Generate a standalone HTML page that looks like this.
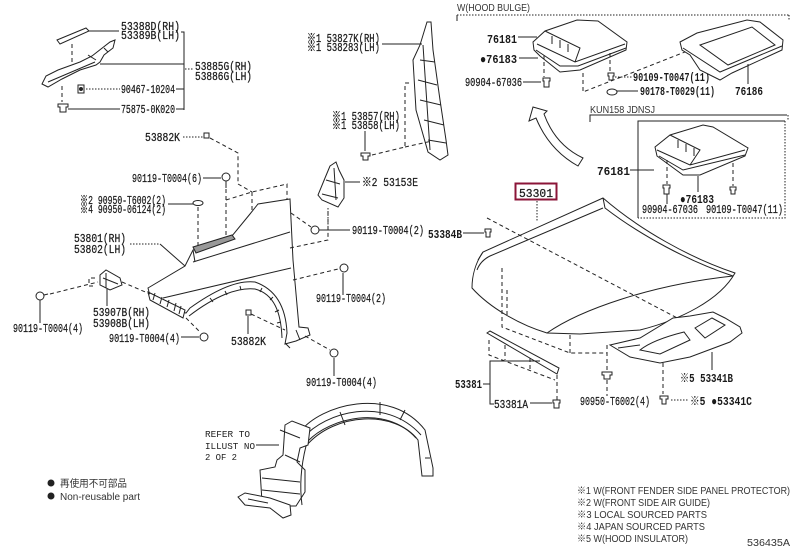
<!DOCTYPE html>
<html><head><meta charset="utf-8"><style>
html,body{margin:0;padding:0;background:#fff}
svg{display:block}
.t{font-family:"Liberation Mono","Noto Sans CJK JP",monospace;font-size:12px;fill:#1a1a1a;stroke:#1a1a1a;stroke-width:0.25}
.b{font-weight:bold;stroke-width:0}
.s{font-family:"Liberation Sans","Noto Sans CJK JP",sans-serif;font-size:10px;fill:#333}
.m{font-family:"Liberation Mono",monospace;font-size:9.5px;fill:#222}
.l{stroke:#222;stroke-width:1;fill:none}
.d{stroke:#222;stroke-width:1;fill:none;stroke-dasharray:4 3}
.o{stroke:#222;stroke-width:1;fill:none;stroke-dasharray:1.5 1.5}
.p{stroke:#222;stroke-width:1;fill:#fff}
.k{fill:#222}
</style></head><body>
<svg width="796" height="549" viewBox="0 0 796 549" xmlns="http://www.w3.org/2000/svg">
<rect width="796" height="549" fill="#fff"/>

<!-- ===== Top-left bracket group ===== -->
<polygon class="p" points="57,40 86,28 89,31 60,44"/>
<line class="l" x1="89" y1="31" x2="119" y2="31"/>
<path class="l" d="M181,32 H184 V110 M176,89 H184 M176,109 H184"/>
<line class="l" x1="100" y1="64" x2="184" y2="64"/>
<line class="o" x1="185" y1="69" x2="194" y2="69"/>
<line class="d" x1="72" y1="44" x2="72" y2="66"/>
<path class="p" d="M42,84 L46,76 L58,70 L80,62 L92,56 L110,42 L115,40 L113,48 L104,55 L100,62 L96,65 L80,70 L62,79 L48,87 Z"/>
<path class="l" d="M48,82 L95,62 M88,55 L96,60 M104,48 L108,52"/>
<line class="d" x1="62" y1="86" x2="62" y2="102"/>
<rect class="p" x="78" y="85" width="6" height="8"/><circle class="k" cx="81" cy="89" r="2"/>
<line class="o" x1="86" y1="89" x2="120" y2="89"/>
<path class="p" d="M58,104 h10 v3 h-2 v5 h-6 v-5 h-2z"/>
<line class="l" x1="68" y1="109" x2="120" y2="109"/>

<text class="t" x="121" y="30" textLength="59" lengthAdjust="spacingAndGlyphs">53388D(RH)</text>
<text class="t" x="121" y="39" textLength="59" lengthAdjust="spacingAndGlyphs">53389B(LH)</text>
<text class="t" x="195" y="70" textLength="57" lengthAdjust="spacingAndGlyphs">53885G(RH)</text>
<text class="t" x="195" y="80" textLength="57" lengthAdjust="spacingAndGlyphs">53886G(LH)</text>
<text class="t" x="121" y="93" textLength="54" lengthAdjust="spacingAndGlyphs">90467-10204</text>
<text class="t" x="121" y="113" textLength="54" lengthAdjust="spacingAndGlyphs">75875-0K020</text>

<!-- 53882K top -->
<text class="t" x="145" y="141" textLength="35" lengthAdjust="spacingAndGlyphs">53882K</text>
<line class="o" x1="183" y1="137" x2="203" y2="137"/>
<rect class="p" x="204" y="133" width="5" height="5"/>
<path class="d" d="M210,138 L238,153 V184"/>

<!-- 90119-T0004(6) -->
<text class="t" x="132" y="182" textLength="70" lengthAdjust="spacingAndGlyphs">90119-T0004(6)</text>
<line class="l" x1="203" y1="178" x2="221" y2="178"/>
<circle class="p" cx="226" cy="177" r="4"/><line class="l" x1="226" y1="181" x2="226" y2="188"/>
<line class="d" x1="226" y1="189" x2="226" y2="240"/>
<path class="d" d="M226,200 L252,192 L287,184 V200 M252,192 V217 M238,184 L252,192"/>

<!-- ※2/※4 grommet -->
<text class="t" x="80" y="204" textLength="86" lengthAdjust="spacingAndGlyphs">※2 90950-T6002(2)</text>
<text class="t" x="80" y="213" textLength="86" lengthAdjust="spacingAndGlyphs">※4 90950-06124(2)</text>
<line class="l" x1="168" y1="204" x2="193" y2="204"/>
<ellipse class="p" cx="198" cy="203" rx="5" ry="2.5"/>
<line class="d" x1="198" y1="207" x2="198" y2="245"/>

<!-- 53801 labels -->
<text class="t" x="74" y="242" textLength="52" lengthAdjust="spacingAndGlyphs">53801(RH)</text>
<text class="t" x="74" y="253" textLength="52" lengthAdjust="spacingAndGlyphs">53802(LH)</text>
<line class="o" x1="130" y1="244" x2="160" y2="244"/>
<line class="l" x1="160" y1="244" x2="185" y2="266"/>

<!-- Fender -->
<path class="p" d="M148,288 L185,266 L193,250 L232,236 L250,214 L258,204 L290,199 L293,260 L299,327 L308,328 L310,335 L296,341 L285,344 L287,333 C286,310 278,290 255,282 C238,280 215,290 190,308 L186,313 L170,309 L150,296 Z"/>
<path class="l" d="M189,316 C215,296 238,287 255,289 C274,294 281,312 282,338"/>
<path class="l" d="M193,262 L290,232 M163,298 L291,268 M193,250 L195,262"/>
<polygon points="193,247 232,235 235,239 196,253" fill="#999" stroke="#222" stroke-width="1"/>
<polygon class="p" points="148,292 185,310 183,318 150,300"/>
<path class="l" d="M155,293 L153,300 M162,297 L160,304 M169,300 L167,307 M176,303 L174,311 M181,306 L179,314"/>
<path class="l" d="M210,298 l3,4 M225,291 l2,4 M240,286 l1,4 M262,288 l-2,4 M273,297 l-3,3 M279,310 l-4,2 M281,322 l-4,1"/>
<path class="l" d="M296,330 L300,340 M285,343 L290,348"/>

<!-- 53907B clip -->
<path class="p" d="M100,275 L106,270 L120,278 L122,285 L110,290 L100,285 Z"/>
<path class="l" d="M103,278 L118,284 M106,273 L106,288"/>
<path class="d" d="M95,278 H89 V286 H95"/>
<line class="d" x1="122" y1="282" x2="150" y2="294"/>
<circle class="p" cx="40" cy="296" r="4"/><line class="l" x1="44" y1="295" x2="48" y2="294"/>
<line class="d" x1="50" y1="294" x2="98" y2="282"/>
<line class="l" x1="107" y1="289" x2="107" y2="306"/>
<text class="t" x="93" y="316" textLength="57" lengthAdjust="spacingAndGlyphs">53907B(RH)</text>
<text class="t" x="93" y="327" textLength="57" lengthAdjust="spacingAndGlyphs">53908B(LH)</text>
<line class="l" x1="40" y1="300" x2="40" y2="323"/>
<text class="t" x="13" y="332" textLength="70" lengthAdjust="spacingAndGlyphs">90119-T0004(4)</text>

<text class="t" x="109" y="342" textLength="71" lengthAdjust="spacingAndGlyphs">90119-T0004(4)</text>
<line class="l" x1="181" y1="337" x2="199" y2="337"/>
<circle class="p" cx="204" cy="337" r="4"/>
<line class="d" x1="186" y1="318" x2="200" y2="332"/>

<rect class="p" x="246" y="310" width="5" height="5"/>
<line class="d" x1="251" y1="314" x2="285" y2="330"/>
<line class="l" x1="248" y1="316" x2="248" y2="334"/>
<text class="t" x="231" y="345" textLength="35" lengthAdjust="spacingAndGlyphs">53882K</text>

<!-- right of fender -->
<circle class="p" cx="344" cy="268" r="4"/>
<line class="l" x1="343" y1="273" x2="343" y2="295"/>
<text class="t" x="316" y="302" textLength="70" lengthAdjust="spacingAndGlyphs">90119-T0004(2)</text>
<line class="d" x1="293" y1="280" x2="338" y2="269"/>
<path class="d" d="M290,248 L328,240 V208"/>
<circle class="p" cx="315" cy="230" r="4"/>
<line class="d" x1="291" y1="213" x2="311" y2="227"/>
<line class="l" x1="319" y1="230" x2="350" y2="230"/>
<text class="t" x="352" y="234" textLength="72" lengthAdjust="spacingAndGlyphs">90119-T0004(2)</text>

<circle class="p" cx="334" cy="353" r="4"/>
<line class="l" x1="334" y1="358" x2="334" y2="376"/>
<line class="d" x1="305" y1="336" x2="330" y2="350"/>
<text class="t" x="306" y="386" textLength="71" lengthAdjust="spacingAndGlyphs">90119-T0004(4)</text>

<!-- 53827K part -->
<path class="p" d="M427,22 L431,22 L433,50 L440,100 L446,140 L448,155 L440,160 L428,152 L416,110 L413,60 L420,45 Z"/>
<path class="l" d="M420,60 L435,62 M418,80 L437,85 M420,100 L441,105 M424,120 L444,125 M428,140 L446,143 M423,45 L430,150"/>
<text class="t" x="307" y="42" textLength="73" lengthAdjust="spacingAndGlyphs">※1 53827K(RH)</text>
<text class="t" x="307" y="51" textLength="73" lengthAdjust="spacingAndGlyphs">※1 538283(LH)</text>
<line class="l" x1="382" y1="44" x2="422" y2="44"/>
<path class="d" d="M372,155 L405,147 V83 H412 M405,147 L432,141"/>
<text class="t" x="332" y="120" textLength="68" lengthAdjust="spacingAndGlyphs">※1 53857(RH)</text>
<text class="t" x="332" y="129" textLength="68" lengthAdjust="spacingAndGlyphs">※1 53858(LH)</text>
<line class="l" x1="365" y1="131" x2="365" y2="151"/>
<path class="p" d="M361,153 h9 v3 h-2 v4 h-5 v-4 h-2z"/>

<!-- 53153E -->
<path class="p" d="M330,166 L336,162 L339,170 L344,180 L344,198 L338,207 L322,200 L318,195 L325,178 Z"/>
<path class="l" d="M326,180 L340,184 M322,194 L338,198 M334,168 L336,200"/>
<line class="l" x1="345" y1="182" x2="360" y2="182"/>
<text class="t" x="362" y="186" textLength="56" lengthAdjust="spacingAndGlyphs">※2 53153E</text>
<line class="o" x1="328" y1="208" x2="328" y2="230"/>

<!-- 53384B -->
<text class="t b" x="428" y="238" textLength="34" lengthAdjust="spacingAndGlyphs">53384B</text>
<line class="l" x1="463" y1="233" x2="484" y2="233"/>
<path class="p" d="M485,229 h6 v3 h-1 v5 h-4 v-5 h-1z"/>

<!-- Hood -->
<path class="p" d="M472,288 C472,275 476,262 483,252 L603,198 C640,230 690,258 735,273 C720,300 680,320 640,330 L580,334 L547,333 C520,325 490,308 472,288 Z"/>
<path class="l" d="M477,270 C480,262 486,258 490,256 L603,208 M603,198 L605,208 C640,235 690,262 733,276 M547,333 C580,310 650,285 733,276 M478,260 L483,252"/>
<path class="d" d="M487,218 L700,330 M502,268 V327 L570,353 H607 M570,335 V353 M507,290 V318"/>
<line class="o" x1="537" y1="201" x2="537" y2="222"/>
<rect x="515.5" y="183.5" width="41" height="16" fill="#fff" stroke="#8b1538" stroke-width="2"/>
<text class="t" x="519" y="197" textLength="34" lengthAdjust="spacingAndGlyphs">53301</text>

<!-- Insulator -->
<path class="p" d="M610,345 L640,338 L673,318 L690,316 L713,312 L725,318 L740,327 L742,333 L730,342 L690,357 L660,363 L630,357 Z"/>
<path class="l" d="M640,350 C650,342 668,336 684,332 L690,340 L660,354 Z M695,328 L712,318 L725,325 L705,338 Z M618,348 L640,345"/>

<!-- 53381 strip -->
<path class="p" d="M487,333 L490,331 L559,368 L557,374 Z"/>
<path class="d" d="M489,340 V355 L555,380 M557,375 V400 M505,345 V360 M530,358 V372"/>
<path class="l" d="M540,361 H490 V404 H494 M483,384 H490"/>
<text class="t b" x="455" y="388" textLength="27" lengthAdjust="spacingAndGlyphs">53381</text>
<text class="t" x="494" y="408" textLength="34" lengthAdjust="spacingAndGlyphs">53381A</text>
<line class="l" x1="530" y1="403" x2="552" y2="403"/>
<path class="p" d="M553,400 h7 v3 h-1 v5 h-5 v-5 h-1z"/>

<line class="d" x1="607" y1="345" x2="607" y2="396"/>
<path class="p" d="M602,372 h10 v3 h-2 v4 h-6 v-4 h-2z"/>
<text class="t" x="580" y="405" textLength="70" lengthAdjust="spacingAndGlyphs">90950-T6002(4)</text>

<line class="l" x1="712" y1="352" x2="712" y2="370"/>
<text class="t b" x="680" y="382" textLength="53" lengthAdjust="spacingAndGlyphs">※5 53341B</text>
<line class="d" x1="663" y1="363" x2="663" y2="394"/>
<path class="p" d="M660,396 h8 v3 h-2 v5 h-4 v-5 h-2z"/>
<line class="o" x1="671" y1="400" x2="688" y2="400"/>
<text class="t b" x="690" y="405" textLength="62" lengthAdjust="spacingAndGlyphs">※5 ●53341C</text>

<!-- W(HOOD BULGE) -->
<text class="s" x="457" y="11" textLength="73" lengthAdjust="spacingAndGlyphs">W(HOOD BULGE)</text>
<line class="o" x1="457" y1="15" x2="790" y2="15"/>
<line class="l" x1="457" y1="15" x2="457" y2="21"/>
<line class="o" x1="789" y1="15" x2="789" y2="20"/>

<path class="p" d="M533,42 L545,31 L577,20 L598,21 L627,42 L626,50 L580,70 L560,72 L540,56 L534,50 Z"/>
<path class="l" d="M537,44 L575,62 L625,44 M545,31 L580,48 L575,62 M552,36 L552,44 M560,40 L560,48 M568,44 L568,52 M536,50 L560,66 L578,66 L626,48"/>
<text class="t b" x="487" y="43" textLength="30" lengthAdjust="spacingAndGlyphs">76181</text>
<line class="l" x1="518" y1="37" x2="537" y2="37"/>
<text class="t b" x="480" y="63" textLength="37" lengthAdjust="spacingAndGlyphs">●76183</text>
<line class="l" x1="519" y1="58" x2="538" y2="58"/>
<text class="t" x="465" y="86" textLength="57" lengthAdjust="spacingAndGlyphs">90904-67036</text>
<line class="l" x1="523" y1="82" x2="541" y2="82"/>
<path class="p" d="M543,78 h7 v3 h-1 v6 h-5 v-6 h-1z"/>
<line class="d" x1="544" y1="55" x2="544" y2="77"/>
<path class="d" d="M583,73 V92 L690,50 M610,53 V72"/>
<path class="p" d="M608,73 h6 v3 h-1 v4 h-4 v-4 h-1z"/>
<line class="o" x1="615" y1="77" x2="632" y2="77"/>
<text class="t b" x="633" y="81" textLength="77" lengthAdjust="spacingAndGlyphs">90109-T0047(11)</text>
<ellipse class="p" cx="612" cy="92" rx="5" ry="3"/>
<line class="l" x1="617" y1="91" x2="638" y2="91"/>
<text class="t b" x="640" y="95" textLength="75" lengthAdjust="spacingAndGlyphs">90178-T0029(11)</text>

<path class="p" d="M680,42 L697,33 L747,20 L760,22 L783,40 L782,50 L732,73 L720,80 L700,70 L690,55 L682,50 Z"/>
<path class="p" d="M700,45 L752,27 L775,45 L728,65 Z"/>
<path class="l" d="M683,48 L720,72 L782,46"/>
<line class="l" x1="748" y1="64" x2="748" y2="84"/>
<text class="t b" x="735" y="95" textLength="28" lengthAdjust="spacingAndGlyphs">76186</text>

<!-- Arrow -->
<path class="p" d="M533,107 L529,121 L536,118 C545,140 560,156 578,166 L583,158 C566,150 552,136 544,114 L547,111 Z"/>

<!-- KUN158 box -->
<text class="s" x="590" y="113" textLength="65" lengthAdjust="spacingAndGlyphs">KUN158 JDNSJ</text>
<path class="l" d="M590,122 V115 H787"/>
<line class="o" x1="788" y1="115" x2="788" y2="121"/>
<path class="l" d="M638,218 V121 H785"/>
<path class="o" d="M785,121 V218 H638"/>
<path class="p" d="M655,147 L670,135 L703,125 L713,127 L748,148 L745,156 L700,175 L683,175 L657,156 Z"/>
<path class="l" d="M657,150 L690,165 L745,150 M670,135 L700,150 L690,165 M678,140 V148 M686,144 V152 M694,148 V156 M659,156 L683,170 L745,155"/>
<line class="d" x1="667" y1="160" x2="667" y2="184"/>
<line class="d" x1="733" y1="163" x2="733" y2="186"/>
<path class="p" d="M663,185 h7 v3 h-1 v6 h-5 v-6 h-1z"/>
<path class="p" d="M730,187 h6 v3 h-1 v4 h-4 v-4 h-1z"/>
<line class="l" x1="667" y1="194" x2="667" y2="204"/>
<line class="l" x1="698" y1="176" x2="698" y2="192"/>
<text class="t b" x="597" y="175" textLength="33" lengthAdjust="spacingAndGlyphs">76181</text>
<line class="l" x1="630" y1="170" x2="654" y2="170"/>
<text class="t b" x="680" y="203" textLength="34" lengthAdjust="spacingAndGlyphs">●76183</text>
<text class="t" x="642" y="213" textLength="56" lengthAdjust="spacingAndGlyphs">90904-67036</text>
<text class="t" x="706" y="213" textLength="77" lengthAdjust="spacingAndGlyphs">90109-T0047(11)</text>

<!-- Fender liner -->
<path class="p" d="M300,432 C320,405 390,385 425,430 L433,468 L433,476 L422,476 L418,440 C395,410 335,412 306,446 Z"/>
<path class="l" d="M303,438 C325,412 385,395 421,435 M308,441 C330,418 385,404 416,438 M340,412 L345,425 M380,402 L380,415 M405,410 L400,420 M425,458 L430,458"/>
<path class="p" d="M285,425 L292,421 L310,428 L308,445 L300,448 L297,462 L305,470 L305,492 L296,506 L270,506 L262,502 L260,470 L275,467 L277,460 L283,455 Z"/>
<path class="l" d="M262,478 L300,482 M262,490 L300,494 M280,430 L300,438 M285,455 L300,462 M306,446 C300,470 300,490 302,505"/>
<path class="p" d="M238,497 L245,493 L270,498 L290,505 L291,515 L283,518 L270,508 L245,505 Z"/>
<path class="l" d="M248,499 L268,503"/>
<text class="m" x="205" y="437" textLength="45" lengthAdjust="spacingAndGlyphs">REFER TO</text>
<text class="m" x="205" y="449" textLength="50" lengthAdjust="spacingAndGlyphs">ILLUST NO</text>
<text class="m" x="205" y="460" textLength="32" lengthAdjust="spacingAndGlyphs">2 OF 2</text>
<line class="l" x1="256" y1="445" x2="279" y2="445"/>

<!-- Legend -->
<circle class="k" cx="51" cy="483" r="3.5"/>
<text class="s" x="60" y="487" textLength="67" lengthAdjust="spacingAndGlyphs">再使用不可部品</text>
<circle class="k" cx="51" cy="496" r="3.5"/>
<text class="s" x="60" y="500" font-size="11" textLength="80" lengthAdjust="spacingAndGlyphs">Non-reusable part</text>

<!-- Footnotes -->
<text class="s" x="577" y="494" textLength="213" lengthAdjust="spacingAndGlyphs">※1 W(FRONT FENDER SIDE PANEL PROTECTOR)</text>
<text class="s" x="577" y="506" textLength="133" lengthAdjust="spacingAndGlyphs">※2 W(FRONT SIDE AIR GUIDE)</text>
<text class="s" x="577" y="518" textLength="130" lengthAdjust="spacingAndGlyphs">※3 LOCAL SOURCED PARTS</text>
<text class="s" x="577" y="530" textLength="128" lengthAdjust="spacingAndGlyphs">※4 JAPAN SOURCED PARTS</text>
<text class="s" x="577" y="542" textLength="111" lengthAdjust="spacingAndGlyphs">※5 W(HOOD INSULATOR)</text>
<text class="s" x="747" y="546" textLength="43" lengthAdjust="spacingAndGlyphs">536435A</text>
</svg>
</body></html>
